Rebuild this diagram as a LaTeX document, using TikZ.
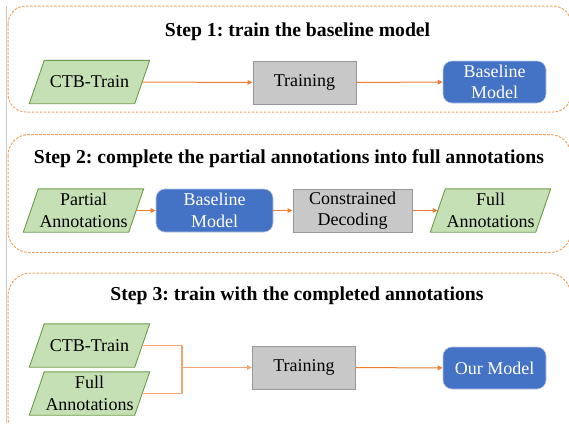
\documentclass[tikz,border=0pt]{standalone}
\usepackage{fontspec}
\setmainfont{Liberation Serif}
\frenchspacing
\usetikzlibrary{arrows.meta,backgrounds}
\definecolor{grfill}{HTML}{C5E0B4}
\definecolor{grborder}{HTML}{6E9B4A}
\definecolor{grayfill}{HTML}{C8C8C8}
\definecolor{grayborder}{HTML}{989898}
\definecolor{bluefill}{HTML}{4472C4}
\definecolor{blueborder}{HTML}{B8C6E4}
\definecolor{arrorange}{HTML}{ED7D31}
\definecolor{bracketorange}{HTML}{F4A570}
\definecolor{frameorange}{HTML}{F2A465}
\definecolor{edgegray}{HTML}{C8C8C8}
\begin{document}
\begin{tikzpicture}[x=1pt,y=-1pt,
  every node/.style={font=\rmfamily\fontsize{18}{21.5}\selectfont, inner sep=0pt, align=center},
  titletext/.style={font=\rmfamily\fontsize{19.7}{23}\selectfont\bfseries, anchor=base},
  databox/.style={minimum width=105pt, minimum height=43pt},
  procbox/.style={draw=grayborder, fill=grayfill, line width=1pt, minimum height=43pt},
  modelbox/.style={draw=blueborder, fill=bluefill, text=white, rounded corners=9pt, line width=0.6pt, minimum height=42pt},
  flow/.style={draw=arrorange, line width=1pt, -{Triangle[length=5pt,width=4.5pt]}},
  bracket/.style={draw=bracketorange, line width=1.2pt},
  stepframe/.style={draw=frameorange, line width=1pt, dash pattern=on 2.6pt off 1.4pt},
  paraface/.style={fill=grfill, draw=grborder, line width=0.9pt},
]
\useasboundingbox (0,0) rectangle (569,423);
\draw[edgegray, line width=1pt] (6.5,6) -- (6.5,423);

% frames
\draw[stepframe, rounded corners=18pt] (8,6) rectangle (571,112);
\draw[stepframe, rounded corners=21pt] (8,134.5) rectangle (571,252.5);
\draw[stepframe, rounded corners=23pt] (8,273) rectangle (571,440);

% titles
\node[titletext] (t1) at (297.5,36) {Step 1: train the baseline model};
\node[titletext] (t2) at (289,163.3) {Step 2: complete the partial annotations into full annotations};
\node[titletext] (t3) at (297,300.7) {Step 3: train with the completed annotations};

% step 1
\node[databox] (ctbA) at (89.5,82) {CTB-Train};
\node[procbox, minimum width=103pt] (trainA) at (304.5,82.5) {Training};
\node[modelbox, minimum width=103pt] (baseA) at (494.5,82) {Baseline\\Model};
\draw[flow] (ctbA) -- (trainA);
\draw[flow] (trainA) -- (baseA);

% step 2
\node[databox] (partial) at (83.5,210.5) {Partial\\Annotations};
\node[modelbox, minimum width=117pt, minimum height=43pt] (baseB) at (214.5,210.5) {Baseline\\Model};
\node[procbox, minimum width=119pt] (consB) at (352.5,210.5) {Constrained\\Decoding};
\node[databox] (fullB) at (490.5,210.5) {Full\\Annotations};
\draw[flow] (partial) -- (baseB);
\draw[flow] (baseB) -- (consB);
\draw[flow] (consB) -- (fullB);

% step 3
\node[databox] (ctbC) at (89.5,345.5) {CTB-Train};
\node[databox] (fullC) at (89.5,393.5) {Full\\Annotations};
\node[procbox, minimum width=103pt] (trainC) at (304,367.5) {Training};
\node[modelbox, minimum width=103pt] (ourC) at (494.5,368) {Our Model};
\coordinate (joinC) at (182,367.5);
\draw[bracket] (ctbC.east) -| (joinC) |- (fullC.east);
\draw[flow, draw=bracketorange] (joinC) -- (trainC);
\draw[flow] (trainC) -- (ourC);

% parallelogram faces
\begin{scope}[on background layer]
\foreach \n in {ctbA,partial,fullB,ctbC,fullC} {
  \path[paraface] ([xshift=7.5pt]\n.north west) -- ([xshift=7.5pt]\n.north east)
     -- ([xshift=-7.5pt]\n.south east) -- ([xshift=-7.5pt]\n.south west) -- cycle;
}
\end{scope}
\end{tikzpicture}
\end{document}
